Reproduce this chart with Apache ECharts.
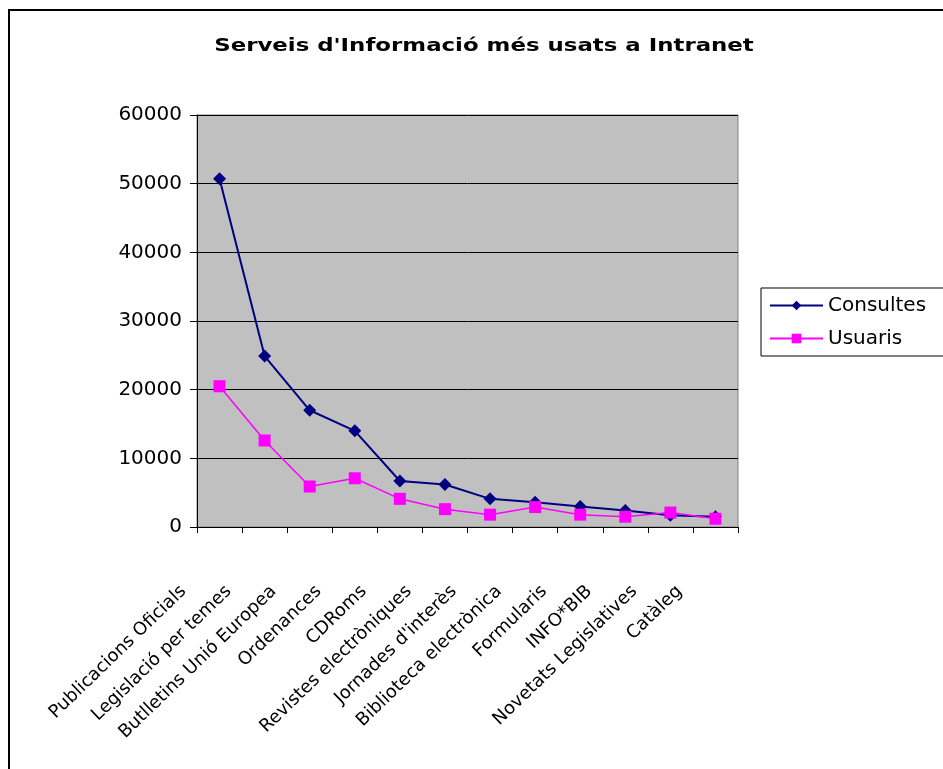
<!DOCTYPE html>
<html>
<head>
<meta charset="utf-8">
<script src="https://cdn.jsdelivr.net/npm/echarts@6/dist/echarts.min.js"></script>
<style>
  html, body { margin: 0; padding: 0; background: #fff; }
  #chart { width: 943px; height: 769px; }
</style>
</head>
<body>
<div id="chart"></div>
<script>
// categories (x axis)
var serveis = [
  'Publicacions Oficials', 'Legislació per temes', 'Butlletins Unió Europea',
  'Ordenances', 'CDRoms', 'Revistes electròniques', "Jornades d'interès",
  'Biblioteca electrònica', 'Formularis', 'INFO*BIB', 'Novetats Legislatives', 'Catàleg'
];
// values
var consultes = [50700, 24900, 17000, 14000, 6700, 6200, 4100, 3600, 3000, 2400, 1700, 1500];
var usuaris   = [20500, 12600, 5900, 7100, 4100, 2600, 1800, 2900, 1800, 1500, 2100, 1200];
var yTicks = { min: 0, max: 60000, interval: 10000 };

var font = 'DejaVu Sans';
var chart = echarts.init(document.getElementById('chart'));

var option = {
  animation: false,
  backgroundColor: '#fff',
  graphic: [{
    type: 'rect',
    shape: { x: 9, y: 10, width: 960, height: 800 },
    style: { fill: 'none', stroke: '#000', lineWidth: 2 },
    silent: true
  }, {
    // title, stretched sideways like the original
    type: 'text',
    x: 484,
    y: 46,
    scaleX: 1.27,
    style: {
      text: "Serveis d'Informació més usats a Intranet",
      font: 'bold 18px "DejaVu Sans"',
      fill: '#000',
      align: 'center',
      verticalAlign: 'middle'
    },
    silent: true
  }],
  legend: {
    left: 761,
    top: 288,
    orient: 'vertical',
    borderColor: '#000',
    borderWidth: 1,
    borderRadius: 0,
    padding: [6, 30, 6, 8],
    itemGap: 10,
    itemWidth: 53,
    itemHeight: 12,
    textStyle: { fontFamily: font, fontSize: 20, color: '#000', lineHeight: 23 },
    data: ['Consultes', 'Usuaris']
  },
  grid: {
    left: 197,
    top: 115,
    width: 541,
    height: 412,
    show: true,
    backgroundColor: '#c0c0c0',
    borderColor: '#808080',
    borderWidth: 1
  },
  xAxis: {
    type: 'category',
    data: serveis,
    boundaryGap: true,
    axisLine: { lineStyle: { color: '#000', width: 1 } },
    axisTick: { show: true, alignWithLabel: false, length: 6, lineStyle: { color: '#000' } },
    axisLabel: {
      interval: 0,
      rotate: 44,
      margin: 27,
      padding: [0, 50, 0, 0],
      fontFamily: font,
      fontSize: 18,
      color: '#000'
    }
  },
  yAxis: {
    type: 'value',
    min: yTicks.min,
    max: yTicks.max,
    interval: yTicks.interval,
    axisLine: { show: true, lineStyle: { color: '#000', width: 1 } },
    axisTick: { show: true, length: 7, lineStyle: { color: '#000' } },
    axisLabel: {
      margin: 15,
      fontFamily: font,
      fontSize: 20,
      color: '#000',
      formatter: function (v) { return String(v); }
    },
    splitLine: { show: true, lineStyle: { color: '#000', width: 1 } }
  },
  series: [{
    name: 'Consultes',
    type: 'line',
    data: consultes,
    symbol: 'diamond',
    symbolSize: 13,
    itemStyle: { color: '#000080' },
    lineStyle: { color: '#000080', width: 2 }
  }, {
    name: 'Usuaris',
    type: 'line',
    data: usuaris,
    symbol: 'rect',
    symbolSize: 12,
    itemStyle: { color: '#ff00ff' },
    lineStyle: { color: '#ff00ff', width: 1.5 }
  }]
};

chart.setOption(option);
</script>
</body>
</html>
